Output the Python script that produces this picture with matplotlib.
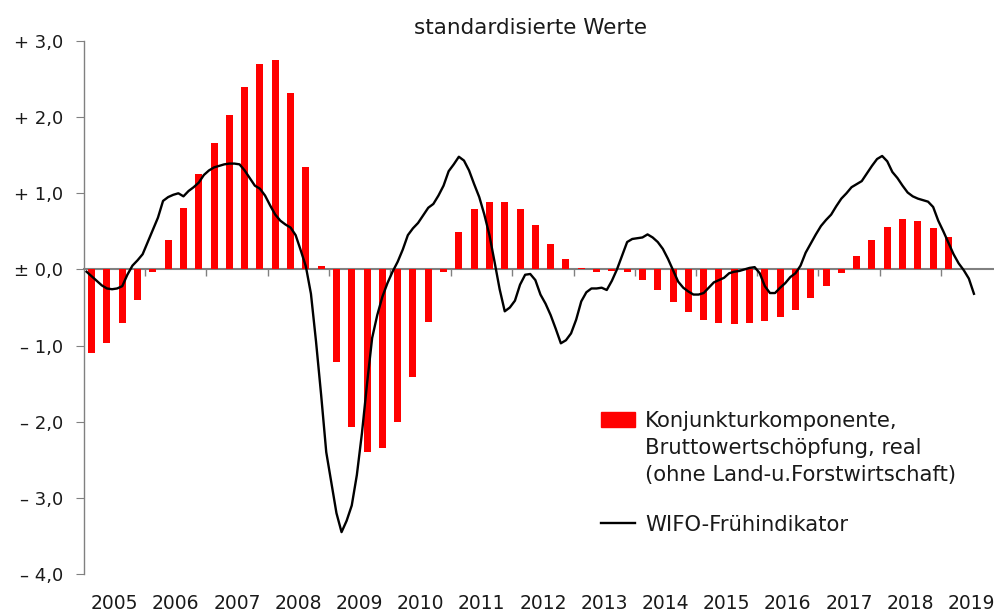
import matplotlib.pyplot as plt
import numpy as np
from matplotlib.patches import Rectangle
from matplotlib.lines import Line2D

# Konjunkturkomponente BWS real, quarterly 2005Q1 - 2019Q1
bws = [-1.10, -0.97, -0.70, -0.40,
       -0.04, 0.38, 0.81, 1.25,
       1.66, 2.03, 2.40, 2.70,
       2.75, 2.32, 1.34, 0.04,
       -1.22, -2.07, -2.40, -2.34,
       -2.00, -1.41, -0.69, -0.03,
       0.49, 0.79, 0.89, 0.88,
       0.79, 0.59, 0.34, 0.14,
       0.02, -0.03, -0.02, -0.04,
       -0.14, -0.27, -0.43, -0.56,
       -0.67, -0.71, -0.72, -0.70,
       -0.68, -0.63, -0.53, -0.38,
       -0.22, -0.05, 0.17, 0.38,
       0.56, 0.66, 0.64, 0.55,
       0.42]

# WIFO-Frühindikator, monthly Jan 2005 - Jul 2019
wifo = [-0.03, -0.09, -0.15, -0.21, -0.25, -0.26, -0.25, -0.22, -0.07, 0.05, 0.12, 0.20,   # 2005
        0.36, 0.52, 0.68, 0.90, 0.95, 0.98, 1.00, 0.96, 1.03, 1.08, 1.14, 1.24,         # 2006
        1.30, 1.34, 1.36, 1.38, 1.39, 1.39, 1.38, 1.30, 1.20, 1.10, 1.06, 0.97,         # 2007
        0.84, 0.72, 0.64, 0.59, 0.55, 0.45, 0.25, 0.04, -0.32, -0.95, -1.65, -2.40,     # 2008
        -2.80, -3.20, -3.45, -3.30, -3.10, -2.70, -2.15, -1.50, -0.90, -0.60, -0.36, -0.18,  # 2009
        -0.03, 0.10, 0.26, 0.45, 0.54, 0.61, 0.71, 0.81, 0.86, 0.97, 1.10, 1.29,         # 2010
        1.38, 1.48, 1.43, 1.30, 1.12, 0.95, 0.72, 0.45, 0.10, -0.26, -0.55, -0.50,       # 2011
        -0.41, -0.20, -0.07, -0.06, -0.14, -0.33, -0.45, -0.60, -0.78, -0.97, -0.93, -0.84,  # 2012
        -0.66, -0.42, -0.30, -0.25, -0.25, -0.24, -0.27, -0.15, 0.00, 0.18, 0.36, 0.40,  # 2013
        0.41, 0.42, 0.46, 0.42, 0.36, 0.27, 0.14, -0.01, -0.16, -0.24, -0.29, -0.33,     # 2014
        -0.33, -0.31, -0.24, -0.17, -0.14, -0.11, -0.05, -0.03, -0.02, 0.00, 0.02, 0.03, # 2015
        -0.05, -0.22, -0.31, -0.31, -0.24, -0.18, -0.10, -0.05, 0.05, 0.22, 0.34, 0.46,  # 2016
        0.57, 0.65, 0.72, 0.83, 0.93, 1.00, 1.08, 1.12, 1.16, 1.26, 1.36, 1.45,          # 2017
        1.49, 1.42, 1.28, 1.20, 1.10, 1.01, 0.96, 0.93, 0.91, 0.89, 0.82, 0.64,          # 2018
        0.50, 0.35, 0.20, 0.08, -0.01, -0.12, -0.32]                                     # 2019

years = list(range(2005, 2020))
yticks = [3, 2, 1, 0, -1, -2, -3, -4]
ylabels = ["+ 3,0", "+ 2,0", "+ 1,0", "\u00b1 0,0", "\u2013 1,0", "\u2013 2,0", "\u2013 3,0", "\u2013 4,0"]

W, H = 994, 613
fig = plt.figure(figsize=(W / 100, H / 100), dpi=100)
ax = fig.add_axes([84 / W, 1 - 574 / H, 1 - 84 / W, (574 - 41) / H])

xq = 2005 + (np.arange(len(bws)) + 0.5) / 4
xm = 2005 + (np.arange(len(wifo)) + 0.5) / 12

ax.bar(xq, bws, width=0.115, color="#ff0000", zorder=2)
ax.plot(xm, wifo, color="black", lw=1.7, zorder=3)

ax.set_xlim(2005, 2005 + 910 / 61.2)
ax.set_ylim(-4, 3)

for s in ["top", "right"]:
    ax.spines[s].set_visible(False)
ax.spines["left"].set_color("#808080")
ax.spines["left"].set_linewidth(1.0)
ax.spines["bottom"].set_position(("data", 0))
ax.spines["bottom"].set_color("#808080")
ax.spines["bottom"].set_linewidth(1.5)
ax.spines["bottom"].set_zorder(1)

ax.set_yticks(yticks)
ax.set_yticklabels(ylabels, fontsize=13, color="#1a1a1a")
ax.tick_params(axis="y", length=6, color="#808080", pad=9)

ax.set_xticks(years[1:])
ax.set_xticklabels([])
ax.tick_params(axis="x", direction="out", length=5, color="#808080", width=1)

for yr in years:
    ax.text(yr + 0.5, -0.056, str(yr), transform=ax.get_xaxis_transform(),
            ha="center", va="center", fontsize=13.5, color="#1a1a1a", clip_on=False)

fig.text(531 / W, 1 - 28 / H, "standardisierte Werte", ha="center", va="center",
         fontsize=15.5, color="#1a1a1a")

# legend drawn by hand
fig.patches.append(Rectangle((601 / W, 1 - 427 / H), 34 / W, 15 / H,
                             transform=fig.transFigure, color="#ff0000"))
fig.lines.append(Line2D([601 / W, 635 / W], [1 - 523 / H, 1 - 523 / H],
                        transform=fig.transFigure, color="black", lw=1.7))
leg_lines = [("Konjunkturkomponente,", 427), ("Bruttowertsch\u00f6pfung, real", 454),
             ("(ohne Land-u.Forstwirtschaft)", 481), ("WIFO-Fr\u00fchindikator", 531)]
for txt, yb in leg_lines:
    fig.text(645 / W, 1 - yb / H, txt, ha="left", va="baseline", fontsize=15.2, color="#1a1a1a")

fig.savefig("out.png", dpi=100)
